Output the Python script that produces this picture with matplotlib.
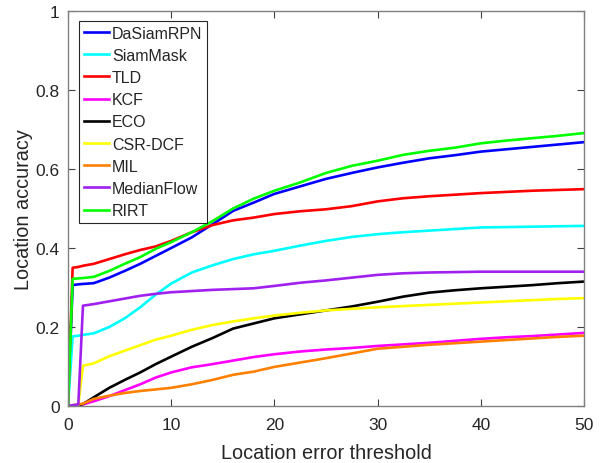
import matplotlib
matplotlib.use("Agg")
import matplotlib.pyplot as plt

plt.rcParams['font.family'] = ['Liberation Sans', 'DejaVu Sans']

thresholds = [0, 0.45, 1.0, 1.45, 2.5, 4, 5.5, 7, 8.5, 10, 12, 14, 16, 18, 20,
              22.5, 25, 27.5, 30, 32.5, 35, 37.5, 40, 42.5, 45, 47.5, 50]

dasiamrpn = [0, 0.306, 0.308, 0.309, 0.311, 0.325, 0.342, 0.360, 0.380, 0.400, 0.427, 0.460,
             0.494, 0.515, 0.537, 0.556, 0.575, 0.590, 0.604, 0.616, 0.627, 0.635, 0.644,
             0.650, 0.656, 0.662, 0.668]
siammask = [0, 0.176, 0.178, 0.180, 0.184, 0.200, 0.222, 0.250, 0.282, 0.310, 0.338, 0.356,
            0.372, 0.384, 0.393, 0.406, 0.418, 0.428, 0.435, 0.440, 0.444, 0.448, 0.452,
            0.453, 0.454, 0.455, 0.456]
tld = [0, 0.350, 0.352, 0.355, 0.360, 0.372, 0.384, 0.395, 0.404, 0.418, 0.440, 0.458,
       0.470, 0.477, 0.486, 0.493, 0.498, 0.506, 0.518, 0.526, 0.531, 0.535, 0.539,
       0.542, 0.545, 0.547, 0.549]
kcf = [0, 0.001, 0.002, 0.004, 0.012, 0.025, 0.040, 0.055, 0.072, 0.085, 0.098, 0.106,
       0.115, 0.124, 0.131, 0.138, 0.143, 0.147, 0.152, 0.156, 0.160, 0.165, 0.170,
       0.174, 0.177, 0.181, 0.185]
eco = [0, 0, 0.002, 0.005, 0.022, 0.046, 0.066, 0.085, 0.106, 0.125, 0.150, 0.172,
       0.196, 0.209, 0.222, 0.232, 0.242, 0.252, 0.264, 0.277, 0.287, 0.293, 0.298,
       0.302, 0.306, 0.311, 0.315]
csrdcf = [0, 0, 0.003, 0.102, 0.108, 0.126, 0.140, 0.154, 0.168, 0.178, 0.193, 0.205,
          0.214, 0.222, 0.229, 0.236, 0.242, 0.246, 0.250, 0.253, 0.256, 0.259, 0.262,
          0.265, 0.268, 0.271, 0.273]
mil = [0, 0.002, 0.004, 0.006, 0.018, 0.026, 0.033, 0.038, 0.042, 0.046, 0.055, 0.066,
       0.079, 0.087, 0.099, 0.110, 0.121, 0.133, 0.145, 0.150, 0.155, 0.159, 0.163,
       0.167, 0.171, 0.175, 0.178]
medianflow = [0, 0.002, 0.004, 0.254, 0.258, 0.265, 0.272, 0.279, 0.284, 0.288, 0.291, 0.294,
              0.296, 0.298, 0.304, 0.312, 0.318, 0.325, 0.332, 0.336, 0.338, 0.339, 0.340,
              0.340, 0.340, 0.340, 0.340]
rirt = [0, 0.322, 0.323, 0.324, 0.327, 0.342, 0.360, 0.377, 0.398, 0.415, 0.440, 0.468,
        0.500, 0.525, 0.545, 0.566, 0.590, 0.608, 0.621, 0.636, 0.646, 0.654, 0.665,
        0.672, 0.678, 0.684, 0.691]

names = ['DaSiamRPN', 'SiamMask', 'TLD', 'KCF', 'ECO', 'CSR-DCF', 'MIL', 'MedianFlow', 'RIRT']
series = [dasiamrpn, siammask, tld, kcf, eco, csrdcf, mil, medianflow, rirt]
colors = ['#0000FF', '#00FFFF', '#FF0000', '#FF00FF', '#000000', '#FFFF00', '#FF8000',
          '#A020F0', '#00FF00']

x_ticks = [0, 10, 20, 30, 40, 50]
y_ticks = [0, 0.2, 0.4, 0.6, 0.8, 1]
y_tick_labels = ['0', '0.2', '0.4', '0.6', '0.8', '1']

fig = plt.figure(figsize=(6.08, 4.64), dpi=100)
ax = fig.add_axes([68/608, (464-407)/464, (584-68)/608, (407-12)/464])

for name, vals, c in zip(names, series, colors):
    ax.plot(thresholds, vals, color=c, linewidth=1.9, label=name)

ax.set_xlim(0, 50)
ax.set_ylim(0, 1)
ax.set_xticks(x_ticks)
ax.set_yticks(y_ticks)
ax.set_yticklabels(y_tick_labels)
axis_gray = '#262626'
for s in ax.spines.values():
    s.set_color('#808080')
    s.set_linewidth(1.0)
ax.tick_params(direction='in', length=5, width=0.8, color='#404040', labelsize=12.5,
               labelcolor=axis_gray, top=True, right=True)
ax.tick_params(axis='x', pad=8)
ax.tick_params(axis='y', pad=6)
ax.set_xlabel('Location error threshold', fontsize=14.3, color=axis_gray, labelpad=8)
ax.set_ylabel('Location accuracy', fontsize=14.3, color=axis_gray, labelpad=2)

leg = ax.legend(loc='upper left', bbox_to_anchor=(0.0213, 0.975), borderaxespad=0,
                fontsize=11.5, handlelength=1.56, handletextpad=0.2, labelspacing=0.45,
                borderpad=0.3, frameon=True, fancybox=False, framealpha=1)
leg.get_frame().set_edgecolor('#262626')
leg.get_frame().set_linewidth(0.8)
for t in leg.get_texts():
    t.set_color(axis_gray)

fig.savefig('out.png', dpi=100)
